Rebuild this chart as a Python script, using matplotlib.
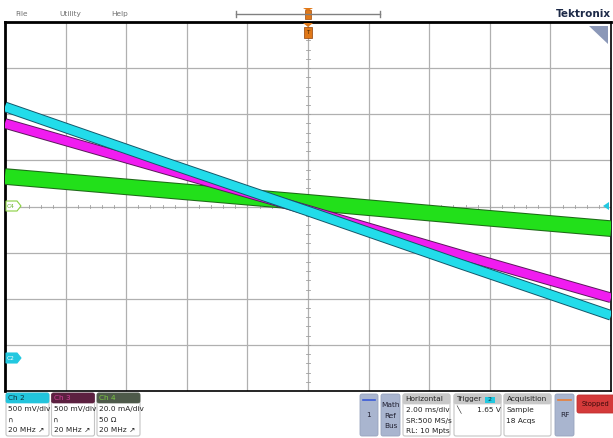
import matplotlib
matplotlib.use("Agg")
import matplotlib.pyplot as plt
import matplotlib.patheffects as pe
from matplotlib.patches import Rectangle, FancyBboxPatch, Polygon

# trace samples (time in ms)
t_ms = [-10, -5, 0, 5, 10]
ch2_v = [2.73, 2.16, 1.60, 1.03, 0.47]
ch3_v = [2.55, 2.08, 1.61, 1.13, 0.66]
ch4_ma = [13.0, 7.4, 1.8, -4.0, -9.6]

# scope settings
ms_per_div = 2.0
ch2_scale, ch2_off = 0.5, -3.3   # V/div, offset in div
ch3_scale, ch3_off = 0.5, -3.3
ch4_scale, ch4_off = 20.0, 0.0   # mA/div
menu_items = ["File", "Utility", "Help"]
ch_labels = ["Ch 2", "Ch 3", "Ch 4"]
ch_lines = [["500 mV/div", "\u2229", "20 MHz \u2197"],
            ["500 mV/div", "\u2229", "20 MHz \u2197"],
            ["20.0 mA/div", "50 \u03a9", "20 MHz \u2197"]]

W, H = 613, 438
fig = plt.figure(figsize=(W / 100, H / 100), dpi=100)
fig.patch.set_facecolor("white")

# ---- graticule axes ----
ax = fig.add_axes([5 / W, 47 / H, 606 / W, 369 / H])
ax.set_xlim(-5, 5)
ax.set_ylim(-4, 4)
ax.set_xticks([])
ax.set_yticks([])
for i in range(-4, 5):
    ax.axvline(i, color="#b0b0b0", lw=0.9, zorder=1)
for j in range(-3, 4):
    ax.axhline(j, color="#b0b0b0", lw=0.9, zorder=1)
# minor ticks on the centre cross
for k in range(-25, 26):
    ax.plot([k / 5, k / 5], [-0.04, 0.04], color="#a0a0a0", lw=0.6, zorder=1)
for k in range(-20, 21):
    ax.plot([-0.04, 0.04], [k / 5, k / 5], color="#a0a0a0", lw=0.6, zorder=1)
for s in ["left", "top"]:
    ax.spines[s].set_linewidth(2.0)
for s in ["right", "bottom"]:
    ax.spines[s].set_linewidth(1.2)
for s in ax.spines.values():
    s.set_color("black")

x_div = [t / ms_per_div for t in t_ms]
y2 = [v / ch2_scale + ch2_off for v in ch2_v]
y3 = [v / ch3_scale + ch3_off for v in ch3_v]
y4 = [v / ch4_scale + ch4_off for v in ch4_ma]

ax.plot(x_div, y4, color="#22e01a", lw=10.5, solid_capstyle="butt", zorder=3,
        path_effects=[pe.Stroke(linewidth=12.0, foreground="#1e6a18"), pe.Normal()])
ax.plot(x_div, y3, color="#f01cf0", lw=6.2, solid_capstyle="butt", zorder=4,
        path_effects=[pe.Stroke(linewidth=7.6, foreground="#5a1a5a"), pe.Normal()])
ax.plot(x_div, y2, color="#22dcea", lw=6.2, solid_capstyle="butt", zorder=5,
        path_effects=[pe.Stroke(linewidth=7.6, foreground="#14586a"), pe.Normal()])

# ---- overlay in pixel coordinates for the UI chrome ----
ov = fig.add_axes([0, 0, 1, 1], facecolor="none")
ov.set_xlim(0, W)
ov.set_ylim(H, 0)
ov.axis("off")

fs = 5.3
for name, x in zip(menu_items, [22, 70, 120]):
    ov.text(x, 14, name, fontsize=fs, color="#707070", ha="center", va="center")
ov.text(611, 14, "Tektronix", fontsize=7.5, fontweight="bold", color="#1d2a48",
        ha="right", va="center")

# timeline bar and trigger position markers
ov.plot([236, 380], [14, 14], color="#808080", lw=1.0)
ov.plot([236, 236], [11, 17], color="#808080", lw=1.0)
ov.plot([380, 380], [11, 17], color="#808080", lw=1.0)
ov.add_patch(Rectangle((305, 10), 6, 9, fc="#e07818", ec="#a04a08", lw=0.5))
ov.add_patch(Polygon([[303, 8], [313, 8], [308, 11]], closed=True, fc="#e07818"))
ov.add_patch(Polygon([[303, 23], [313, 23], [308, 27]], closed=True, fc="#e07818"))
ov.add_patch(Rectangle((304, 27), 8, 11, fc="#e07818", ec="#904008", lw=0.5))
ov.text(308, 32.5, "T", fontsize=4, color="#3a2000", ha="center", va="center")

# corner zoom icon
ov.add_patch(Polygon([[589, 26], [608, 26], [608, 44]], closed=True, fc="#8b98b8"))

# channel ground markers / trigger level
ov.add_patch(Polygon([[6, 201], [17, 201], [21, 206], [17, 211], [6, 211]],
                     closed=True, fc="white", ec="#8ad040", lw=0.8))
ov.text(11, 206, "C4", fontsize=4.2, color="#6ab030", ha="center", va="center")
ov.add_patch(Polygon([[6, 353], [17, 353], [21, 358], [17, 363], [6, 363]],
                     closed=True, fc="#22c8e0", ec="#22c8e0", lw=0.8))
ov.text(11, 358, "C2", fontsize=4.2, color="white", ha="center", va="center")
ov.add_patch(Polygon([[603, 206], [609, 202], [609, 210]], closed=True, fc="#22c8e0"))

# channel badges at bottom left
hdr_fc = ["#22c4dc", "#5c2040", "#4e5a4a"]
hdr_tc = ["#10303c", "#d04098", "#7cc840"]
for i, (lab, rows) in enumerate(zip(ch_labels, ch_lines)):
    x0 = 6 + i * 45.5
    ov.add_patch(FancyBboxPatch((x0, 393), 43, 43, boxstyle="round,pad=0,rounding_size=2",
                                fc="white", ec="#c4c4c4", lw=0.8))
    ov.add_patch(FancyBboxPatch((x0, 393), 43, 10, boxstyle="round,pad=0,rounding_size=2",
                                fc=hdr_fc[i], ec=hdr_fc[i], lw=0.5))
    ov.text(x0 + 2, 398.5, lab, fontsize=fs, color=hdr_tc[i], va="center")
    for r, txt in enumerate(rows):
        ov.text(x0 + 2, 409 + r * 10.5, txt, fontsize=fs, color="#222222", va="center")

# right side panels
ov.add_patch(FancyBboxPatch((360, 394), 18, 42, boxstyle="round,pad=0,rounding_size=2",
                            fc="#a9b5cf", ec="#98a4be", lw=0.6))
ov.plot([363, 375], [399.5, 399.5], color="#3a5ad8", lw=1.2)
ov.text(369, 415, "1", fontsize=fs, color="#223", ha="center", va="center")
ov.add_patch(FancyBboxPatch((381, 394), 19, 42, boxstyle="round,pad=0,rounding_size=2",
                            fc="#a9b5cf", ec="#98a4be", lw=0.6))
for r, txt in enumerate(["Math", "Ref", "Bus"]):
    ov.text(390.5, 405 + r * 10.5, txt, fontsize=fs, color="#223", ha="center", va="center")

panels = [(403, "Horizontal", ["2.00 ms/div", "SR:500 MS/s", "RL: 10 Mpts"]),
          (454, "Trigger", ["\u2572       1.65 V"]),
          (504, "Acquisition", ["Sample", "18 Acqs"])]
for x0, title, rows in panels:
    ov.add_patch(FancyBboxPatch((x0, 394), 47, 42, boxstyle="round,pad=0,rounding_size=2",
                                fc="white", ec="#c4c4c4", lw=0.8))
    ov.add_patch(FancyBboxPatch((x0, 394), 47, 10, boxstyle="round,pad=0,rounding_size=2",
                                fc="#c8c8c8", ec="#c8c8c8", lw=0.5))
    ov.text(x0 + 2.5, 399, title, fontsize=fs, color="#222222", va="center")
    for r, txt in enumerate(rows):
        ov.text(x0 + 2.5, 410 + r * 10.5, txt, fontsize=fs, color="#222222", va="center")
ov.add_patch(Rectangle((485, 396.5), 10, 6.5, fc="#22c8e0"))
ov.text(490, 399.8, "2", fontsize=4.5, color="#10303c", ha="center", va="center")

ov.add_patch(FancyBboxPatch((555, 394), 19, 42, boxstyle="round,pad=0,rounding_size=2",
                            fc="#a9b5cf", ec="#98a4be", lw=0.6))
ov.plot([558, 571], [399.5, 399.5], color="#e8803a", lw=1.2)
ov.text(564.5, 415, "RF", fontsize=fs, color="#223", ha="center", va="center")
ov.add_patch(FancyBboxPatch((577, 395), 40, 18, boxstyle="round,pad=0,rounding_size=2",
                            fc="#d43a3a", ec="#c03030", lw=0.6))
ov.text(595, 404, "Stopped", fontsize=4.8, color="#3a0a0a", ha="center", va="center")

fig.savefig("out.png", dpi=100)
